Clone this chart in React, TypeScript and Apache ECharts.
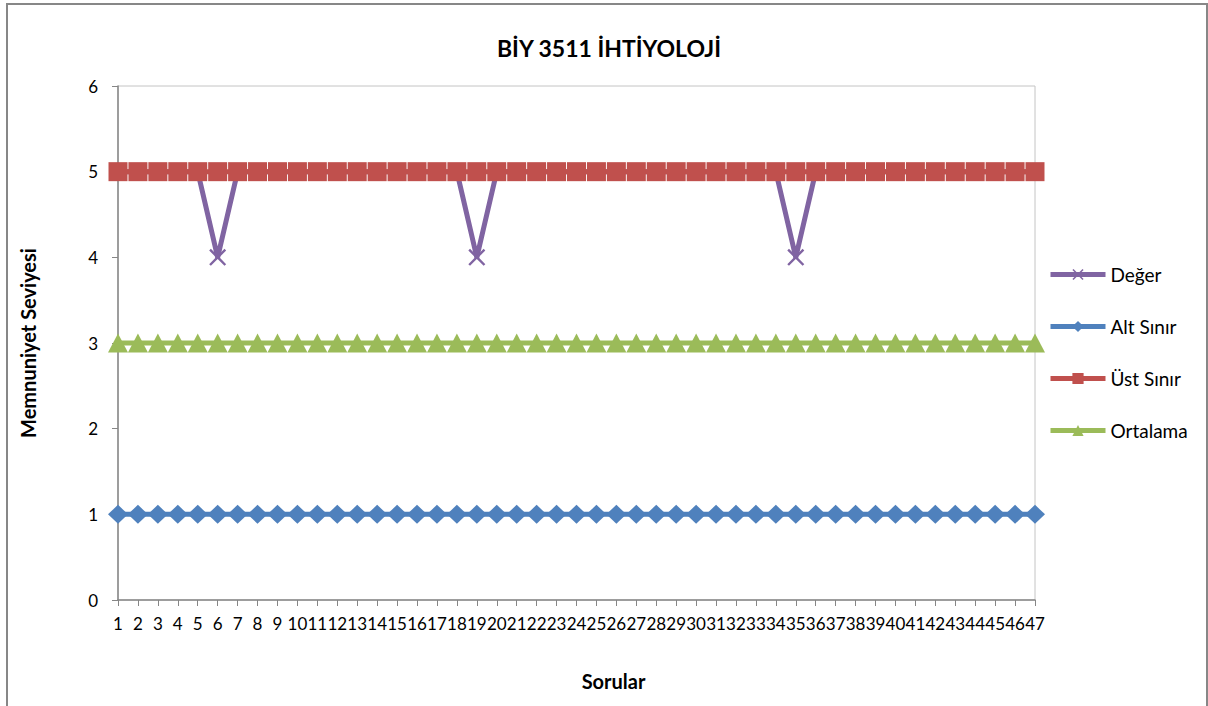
import React, { useEffect, useRef } from "react";
import * as echarts from "echarts";

const categories = ["1","2","3","4","5","6","7","8","9","10","11","12","13","14","15","16","17","18","19","20","21","22","23","24","25","26","27","28","29","30","31","32","33","34","35","36","37","38","39","40","41","42","43","44","45","46","47"];
const deger = [5,5,5,5,5,4,5,5,5,5,5,5,5,5,5,5,5,5,4,5,5,5,5,5,5,5,5,5,5,5,5,5,5,5,4,5,5,5,5,5,5,5,5,5,5,5,5];
const altSinir = [1,1,1,1,1,1,1,1,1,1,1,1,1,1,1,1,1,1,1,1,1,1,1,1,1,1,1,1,1,1,1,1,1,1,1,1,1,1,1,1,1,1,1,1,1,1,1];
const ustSinir = [5,5,5,5,5,5,5,5,5,5,5,5,5,5,5,5,5,5,5,5,5,5,5,5,5,5,5,5,5,5,5,5,5,5,5,5,5,5,5,5,5,5,5,5,5,5,5];
const ortalama = [3,3,3,3,3,3,3,3,3,3,3,3,3,3,3,3,3,3,3,3,3,3,3,3,3,3,3,3,3,3,3,3,3,3,3,3,3,3,3,3,3,3,3,3,3,3,3];
const yTicks = [0, 1, 2, 3, 4, 5, 6];

const FONT = "Lato, 'Liberation Sans', sans-serif";
const CROSS = "path://M0,1L1,0L5,4L9,0L10,1L6,5L10,9L9,10L5,6L1,10L0,9L4,5Z";

export default function App() {
  const ref = useRef<HTMLDivElement>(null);
  useEffect(() => {
    if (!ref.current) return;
    const chart = echarts.init(ref.current, undefined, { renderer: "svg" });
    chart.setOption({
      animation: false,
      backgroundColor: "#ffffff",
      title: {
        text: "BİY 3511 İHTİYOLOJİ",
        left: 604,
        textAlign: "center",
        top: 31,
        textStyle: { fontFamily: FONT, fontSize: 23, fontWeight: "bold", color: "#000" },
      },
      graphic: [
        {
          type: "rect",
          shape: { x: 7, y: 4, width: 1200, height: 720 },
          style: { fill: "none", stroke: "#878787", lineWidth: 2 },
          silent: true,
        },
      ],
      legend: {
        orient: "vertical",
        left: 1043,
        top: 260,
        itemWidth: 55,
        itemHeight: 14,
        itemGap: 33,
        selectedMode: false,
        lineStyle: { width: 5 },
        textStyle: { fontFamily: FONT, fontSize: 19, color: "#000" },
        data: ["Değer", "Alt Sınır", "Üst Sınır", "Ortalama"],
      },
      grid: {
        left: 118,
        top: 86,
        right: 173,
        bottom: 106,
        show: true,
        borderColor: "#c4c4c4",
        borderWidth: 1,
      },
      xAxis: {
        type: "category",
        data: categories,
        boundaryGap: false,
        name: "Sorular",
        nameLocation: "middle",
        nameGap: 71,
        nameTextStyle: {
          fontFamily: FONT,
          fontSize: 20,
          fontWeight: "bold",
          color: "#000",
          padding: [0, 0, 0, 74],
        },
        axisLine: { lineStyle: { color: "#868686", width: 1.5 } },
        axisTick: { show: true, interval: 0, length: 6, lineStyle: { color: "#868686" } },
        axisLabel: { interval: 0, margin: 15, fontFamily: FONT, fontSize: 17, color: "#000" },
        splitLine: { show: false },
      },
      yAxis: {
        type: "value",
        min: yTicks[0],
        max: yTicks[yTicks.length - 1],
        interval: 1,
        name: "Memnuniyet Seviyesi",
        nameLocation: "middle",
        nameGap: 80,
        nameTextStyle: { fontFamily: FONT, fontSize: 20, fontWeight: "bold", color: "#000" },
        axisLine: { show: true, lineStyle: { color: "#868686", width: 1.5 } },
        axisTick: { show: true, length: 6, lineStyle: { color: "#868686" } },
        axisLabel: { margin: 20, fontFamily: FONT, fontSize: 17, color: "#000" },
        splitLine: { show: false },
      },
      series: [
        {
          name: "Değer",
          type: "line",
          data: deger,
          symbol: CROSS,
          symbolSize: 17,
          itemStyle: { color: "#8064A2" },
          lineStyle: { color: "#8064A2", width: 5 },
        },
        {
          name: "Alt Sınır",
          type: "line",
          data: altSinir,
          symbol: "diamond",
          symbolSize: [20, 19],
          itemStyle: { color: "#4F81BD" },
          lineStyle: { color: "#4F81BD", width: 5 },
        },
        {
          name: "Üst Sınır",
          type: "line",
          data: ustSinir,
          symbol: "rect",
          symbolSize: 19,
          itemStyle: { color: "#C0504D" },
          lineStyle: { color: "#C0504D", width: 5 },
        },
        {
          name: "Ortalama",
          type: "line",
          data: ortalama,
          symbol: "triangle",
          symbolSize: [20, 19],
          itemStyle: { color: "#9BBB59" },
          lineStyle: { color: "#9BBB59", width: 5 },
        },
      ],
    });
    return () => chart.dispose();
  }, []);
  return (
    <div
      ref={ref}
      style={{ position: "fixed", left: 0, top: 0, width: 1208, height: 706 }}
    />
  );
}
